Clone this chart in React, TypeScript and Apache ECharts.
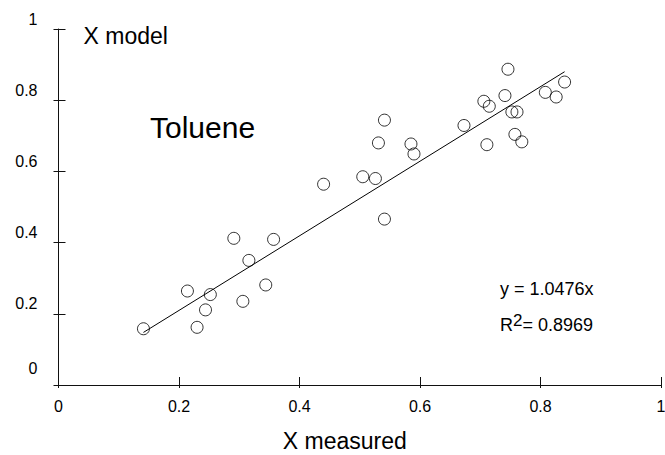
import React, { useEffect, useRef } from "react";
import * as echarts from "echarts";

const xMeasured = [
  0.141, 0.230, 0.244, 0.214, 0.252, 0.306, 0.344, 0.316, 0.291, 0.357,
  0.541, 0.531, 0.585, 0.590, 0.440, 0.505, 0.526, 0.541,
  0.746, 0.706, 0.715, 0.741, 0.673, 0.7525, 0.761, 0.808, 0.826, 0.840, 0.7575, 0.769, 0.711,
];
const xModel = [
  0.158, 0.162, 0.211, 0.264, 0.254, 0.235, 0.281, 0.350, 0.412, 0.409,
  0.744, 0.680, 0.677, 0.649, 0.564, 0.585, 0.580, 0.466,
  0.887, 0.797, 0.783, 0.813, 0.729, 0.767, 0.767, 0.822, 0.809, 0.851, 0.704, 0.683, 0.675,
];
const trendSlope = 1.0476;
const trendX = [0.141, 0.840];
const axisTicks = [0, 0.2, 0.4, 0.6, 0.8, 1];
const compound = "Toluene";
const equationText = "y = 1.0476x";
const r2Value = "0.8969";

const FONT = "'Liberation Sans', Arial, Helvetica, sans-serif";

export default function App() {
  const ref = useRef<HTMLDivElement>(null);
  useEffect(() => {
    document.body.style.margin = "0";
    if (!ref.current) return;
    const chart = echarts.init(ref.current, null, { renderer: "svg" });
    const points = xMeasured.map((x, i) => [x, xModel[i]]);
    const trend = trendX.map((x) => [x, trendSlope * x]);
    const tickMin = axisTicks[0];
    const tickMax = axisTicks[axisTicks.length - 1];
    const step = axisTicks[1] - axisTicks[0];
    const lineColor = "#111";
    const baseLabel = { fontFamily: FONT, fontSize: 16, color: "#000" };
    chart.setOption({
      animation: false,
      backgroundColor: "#fff",
      grid: { left: 58.5, right: 4, top: 29, bottom: 70, outerBoundsMode: "none", containLabel: false },
      xAxis: [
        {
          type: "value",
          position: "bottom",
          min: tickMin,
          max: tickMax,
          interval: step,
          name: "X measured",
          nameLocation: "middle",
          nameGap: 56,
          nameTextStyle: { fontFamily: FONT, fontSize: 23, lineHeight: 24, color: "#000", verticalAlign: "middle", padding: [0, 30, 0, 0] },
          axisLine: { show: true, lineStyle: { color: lineColor, width: 1 } },
          axisTick: { show: true, inside: true, length: 8, lineStyle: { color: lineColor } },
          axisLabel: { ...baseLabel, margin: 13, formatter: (v: number) => String(v) },
          splitLine: { show: false },
        },
        {
          type: "value",
          position: "bottom",
          min: tickMin,
          max: tickMax,
          interval: step,
          axisLine: { show: false },
          axisTick: { show: true, inside: false, length: 3, lineStyle: { color: lineColor } },
          axisLabel: { show: false },
          splitLine: { show: false },
        },
      ],
      yAxis: [
        {
          type: "value",
          position: "left",
          min: tickMin,
          max: tickMax,
          interval: step,
          name: "X model",
          nameLocation: "end",
          nameGap: -7,
          nameTextStyle: { fontFamily: FONT, fontSize: 23, color: "#000", align: "left", verticalAlign: "middle", padding: [0, 0, 0, 25] },
          axisLine: { show: true, lineStyle: { color: lineColor, width: 1 } },
          axisTick: { show: true, inside: true, length: 7, lineStyle: { color: lineColor } },
          axisLabel: {
            ...baseLabel,
            margin: 21,
            verticalAlign: "bottom",
            padding: [0, 0, 2, 0],
            formatter: (v: number) => (v === 0 ? "{z|0}" : String(v)),
            rich: {
              z: { fontFamily: FONT, fontSize: 16, color: "#000", padding: [0, 0, 7, 0] },
            },
          },
          splitLine: { show: false },
        },
        {
          type: "value",
          position: "left",
          min: tickMin,
          max: tickMax,
          interval: step,
          axisLine: { show: false },
          axisTick: { show: true, inside: false, length: 5, lineStyle: { color: lineColor } },
          axisLabel: { show: false },
          splitLine: { show: false },
        },
      ],
      graphic: [
        { type: "text", left: 150, top: 112, style: { text: compound, font: `30px ${FONT}`, fill: "#000" } },
        { type: "text", left: 500, top: 280, style: { text: equationText, font: `18px ${FONT}`, fill: "#000" } },
        {
          type: "text",
          left: 500,
          top: 312,
          style: {
            text: "{r|R}{s|2}{e|= " + r2Value + "}",
            fill: "#000",
            rich: {
              r: { fontFamily: FONT, fontSize: 18, lineHeight: 22, verticalAlign: "bottom", fill: "#000" },
              s: { fontFamily: FONT, fontSize: 17, lineHeight: 22, verticalAlign: "bottom", padding: [0, 0, 5, 0], fill: "#000" },
              e: { fontFamily: FONT, fontSize: 18, lineHeight: 22, verticalAlign: "bottom", fill: "#000" },
            },
          },
        },
      ],
      series: [
        {
          type: "line",
          xAxisIndex: 0,
          yAxisIndex: 0,
          data: trend,
          symbol: "none",
          lineStyle: { color: "#000", width: 1 },
          silent: true,
        },
        {
          type: "scatter",
          xAxisIndex: 0,
          yAxisIndex: 0,
          data: points,
          symbol: "circle",
          symbolSize: 12,
          itemStyle: { color: "rgba(255,255,255,0)", borderColor: "#000", borderWidth: 1 },
        },
      ],
    });
    return () => chart.dispose();
  }, []);
  return <div ref={ref} style={{ position: "absolute", left: 0, top: 0, width: 665, height: 455 }} />;
}
